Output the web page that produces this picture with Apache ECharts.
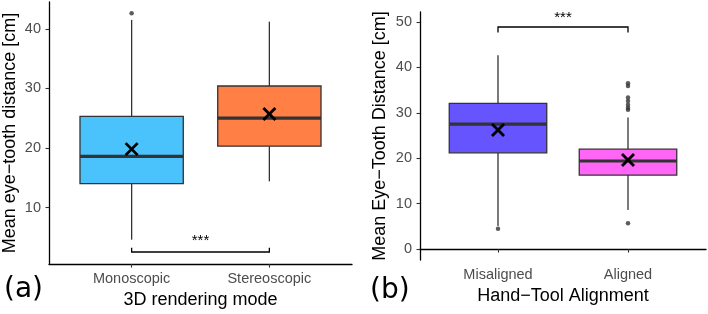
<!DOCTYPE html>
<html>
<head>
<meta charset="utf-8">
<script src="https://cdn.jsdelivr.net/npm/echarts@6/dist/echarts.min.js"></script>
<style>
  html, body { margin: 0; padding: 0; background: #fff; }
  #main { width: 708px; height: 314px; }
</style>
</head>
<body>
<div id="main"></div>
<script>
  // panel (a): 3D rendering mode
  var catsA = ['Monoscopic', 'Stereoscopic'];
  // [min, q1, median, q3, max]
  var boxA = [[4.6, 14.0, 18.6, 25.3, 41.5], [14.4, 20.3, 25.0, 30.4, 41.2]];
  var meanA = [19.8, 25.7];
  var outA = [[1, 42.6]];
  var colorsA = ['#4AC2FC', '#FF7F45'];
  var ticksA = [10, 20, 30, 40];
  var sigA = [[1, 2, 2.53, 3.24, '***']];

  // panel (b): hand-tool alignment
  var catsB = ['Misaligned', 'Aligned'];
  var boxB = [[5.1, 21.2, 27.5, 32.1, 42.7], [8.6, 16.3, 19.4, 22.0, 29.0]];
  var meanB = [26.2, 19.6];
  var outB = [[1, 4.5], [2, 5.7], [2, 30.7], [2, 31.1], [2, 31.8], [2, 32.6], [2, 33.4], [2, 35.9], [2, 36.5]];
  var colorsB = ['#6655FF', '#FF66F5'];
  var ticksB = [0, 10, 20, 30, 40, 50];
  var sigB = [[1, 2, 48.9, 47.7, '***']];

  var FONT = 'Liberation Sans';

  function boxData(box, mean) {
    return box.map(function (b, i) { return [i + 1].concat(b).concat([mean[i]]); });
  }

  function renderBox(colors) {
    return function (params, api) {
      var x = api.value(0);
      var w = api.size([0.75, 0])[0];
      var pMin = api.coord([x, api.value(1)]);
      var pQ1 = api.coord([x, api.value(2)]);
      var pMed = api.coord([x, api.value(3)]);
      var pQ3 = api.coord([x, api.value(4)]);
      var pMax = api.coord([x, api.value(5)]);
      var pMean = api.coord([x, api.value(6)]);
      var cx = pMed[0];
      var line = { stroke: '#333', lineWidth: 1.3 };
      var s = 6;
      return {
        type: 'group',
        children: [
          { type: 'line', shape: { x1: cx, y1: pMin[1], x2: cx, y2: pQ1[1] }, style: line },
          { type: 'line', shape: { x1: cx, y1: pQ3[1], x2: cx, y2: pMax[1] }, style: line },
          { type: 'rect', shape: { x: cx - w / 2, y: pQ3[1], width: w, height: pQ1[1] - pQ3[1] },
            style: { fill: colors[params.dataIndex], stroke: '#333', lineWidth: 1.3 } },
          { type: 'line', shape: { x1: cx - w / 2, y1: pMed[1], x2: cx + w / 2, y2: pMed[1] },
            style: { stroke: '#333', lineWidth: 3.2 } },
          { type: 'line', shape: { x1: pMean[0] - s, y1: pMean[1] - s, x2: pMean[0] + s, y2: pMean[1] + s },
            style: { stroke: '#000', lineWidth: 2.8 } },
          { type: 'line', shape: { x1: pMean[0] - s, y1: pMean[1] + s, x2: pMean[0] + s, y2: pMean[1] - s },
            style: { stroke: '#000', lineWidth: 2.8 } }
        ]
      };
    };
  }

  function renderSig(params, api) {
    var a = api.coord([api.value(0), api.value(2)]);
    var b = api.coord([api.value(1), api.value(2)]);
    var ta = api.coord([api.value(0), api.value(3)]);
    var mid = api.coord([(api.value(0) + api.value(1)) / 2, api.value(2)]);
    var up = ta[1] < a[1];
    return {
      type: 'group',
      children: [
        { type: 'polyline', shape: { points: [[a[0], ta[1]], a, b, [b[0], ta[1]]] },
          style: { stroke: '#000', lineWidth: 1.3, fill: 'none' } },
        { type: 'text', x: mid[0], y: up ? Math.min(a[1], ta[1]) + 1 : Math.min(a[1], ta[1]) - 2,
          style: { text: api.value(4), fill: '#000', font: '15px ' + FONT, align: 'center', verticalAlign: 'bottom' } }
      ]
    };
  }

  function xAxis(idx, cats, name) {
    return {
      type: 'value', gridIndex: idx, min: 0.4, max: 2.6,
      name: name, nameLocation: 'middle', nameGap: 25,
      nameTextStyle: { fontFamily: FONT, fontSize: 18, color: '#000' },
      splitLine: { show: false },
      axisLine: { lineStyle: { color: '#000', width: 1.3 } },
      axisTick: { customValues: [1, 2], length: 3.5, lineStyle: { color: '#333', width: 1.1 } },
      axisLabel: {
        customValues: [1, 2], margin: 7,
        fontFamily: FONT, fontSize: 14.5, color: '#4D4D4D',
        formatter: function (v) { return cats[Math.round(v) - 1]; }
      }
    };
  }

  function yAxis(idx, min, max, ticks, name, gap) {
    return {
      type: 'value', gridIndex: idx, min: min, max: max,
      name: name, nameLocation: 'middle', nameGap: gap,
      nameTextStyle: { fontFamily: FONT, fontSize: 18, color: '#000' },
      splitLine: { show: false },
      axisLine: { show: true, lineStyle: { color: '#000', width: 1.3 } },
      axisTick: { show: true, customValues: ticks, length: 3.5, lineStyle: { color: '#333', width: 1.1 } },
      axisLabel: { customValues: ticks, margin: 8, fontFamily: FONT, fontSize: 14.5, color: '#4D4D4D' }
    };
  }

  var option = {
    animation: false,
    backgroundColor: '#fff',
    grid: [
      { left: 49, top: 2, width: 303, height: 265 },
      { left: 420, top: 12, width: 286, height: 248 }
    ],
    xAxis: [xAxis(0, catsA, '3D rendering mode'), xAxis(1, catsB, 'Hand\u2212Tool Alignment')],
    yAxis: [
      yAxis(0, 0.5, 44.5, ticksA, 'Mean eye\u2212tooth distance [cm]', 30),
      yAxis(1, -2.4, 52.2, ticksB, 'Mean Eye\u2212Tooth Distance [cm]', 31)
    ],
    graphic: [
      { type: 'text', left: 4, top: 276, style: { text: '(a)', font: '28px "DejaVu Sans"', fill: '#000' } },
      { type: 'text', left: 370, top: 277, style: { text: '(b)', font: '28px "DejaVu Sans"', fill: '#000' } }
    ],
    series: [
      { type: 'custom', xAxisIndex: 0, yAxisIndex: 0, renderItem: renderBox(colorsA), data: boxData(boxA, meanA), z: 2 },
      { type: 'scatter', xAxisIndex: 0, yAxisIndex: 0, data: outA, symbolSize: 4.5, itemStyle: { color: '#333' }, z: 3 },
      { type: 'custom', xAxisIndex: 0, yAxisIndex: 0, renderItem: renderSig, data: sigA, z: 3 },
      { type: 'custom', xAxisIndex: 1, yAxisIndex: 1, renderItem: renderBox(colorsB), data: boxData(boxB, meanB), z: 2 },
      { type: 'scatter', xAxisIndex: 1, yAxisIndex: 1, data: outB, symbolSize: 4.5, itemStyle: { color: '#333' }, z: 3 },
      { type: 'custom', xAxisIndex: 1, yAxisIndex: 1, renderItem: renderSig, data: sigB, z: 3 }
    ]
  };

  var chart = echarts.init(document.getElementById('main'), null, { renderer: 'canvas' });
  chart.setOption(option);
</script>
</body>
</html>
